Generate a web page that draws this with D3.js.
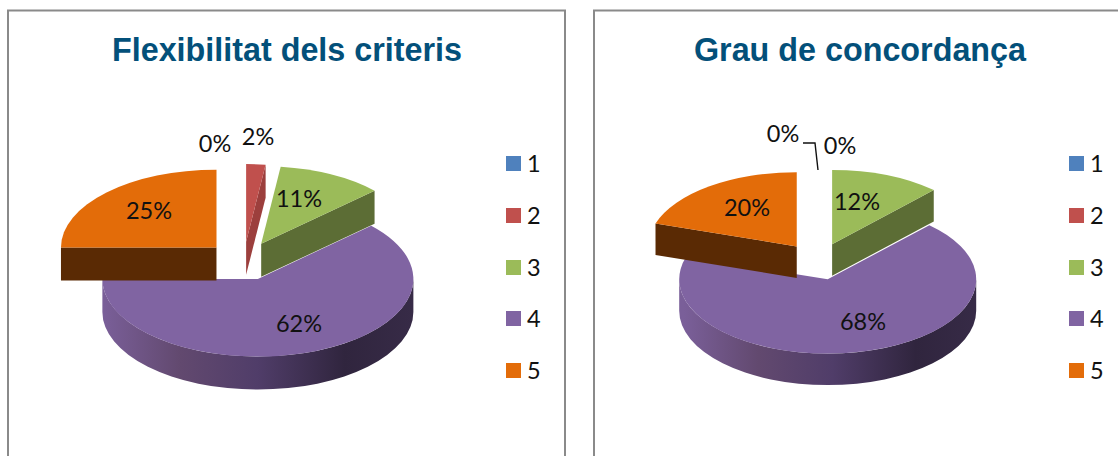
<!DOCTYPE html>
<html><head><meta charset="utf-8">
<script src="https://cdn.jsdelivr.net/npm/d3@7"></script>
<style>html,body{margin:0;padding:0;background:#fff;overflow:hidden}svg{display:block}</style>
</head><body><svg id="c" width="1118" height="456"></svg>
<script>
const categories = ["1","2","3","4","5"];
const titleA = "Flexibilitat dels criteris";
const titleB = "Grau de concordança";
const valuesA = [0,2,11,62,25];
const valuesB = [0,0,12,68,20];
const colors = ["#4F81BD","#C0504D","#9BBB59","#8064A2","#E36C09"];
const wallColors = ["#2F4D71","#9C3F3D","#5C6D35","#8064A2","#5A2A04"];

const layouts = [
 {values:valuesA,title:titleA,titleX:287,frameL:8,frameR:565,cx:243.7,cy:261,rx:155.5,ry:77.7,explode:38.5,depth:33,
  legendX:506,legendY:[156,208,260,311,363],
  labels:[[215,144],[258,137],[299,199],[299,324],[149,211]],leader:null},
 {values:valuesB,title:titleB,titleX:860,frameL:594,frameR:1130,cx:818.5,cy:261.4,rx:148.5,ry:74.25,explode:37,depth:31.5,
  legendX:1069,legendY:[156,208,260,311,363],
  labels:[[783,134],[840,146],[857,202],[863,322],[747,208]],leader:[[803,143],[815,143],[818,170]]}
];
const svg = d3.select("#c");
const defs = svg.append("defs");
const fmt = v => v + "%";
const LABEL_FONT = "Lato, 'Open Sans', sans-serif";

layouts.forEach((L,li)=>{
  const g = svg.append("g");
  g.append("path").attr("d",`M${L.frameL},470V10.5H${L.frameR}V470`).attr("fill","none").attr("stroke","#8a8a8a").attr("stroke-width",2);
  g.append("text").attr("x",L.titleX).attr("y",61).attr("text-anchor","middle")
    .attr("font-family","'Liberation Sans',Arial,sans-serif").attr("font-weight","bold").attr("font-size",32.3)
    .attr("fill","#03507A").text(L.title);

  const arcs = d3.pie().sort(null).value(d=>d)(L.values);
  const pt=(a,c)=>[c[0]+L.rx*Math.sin(a),c[1]-L.ry*Math.cos(a)];
  const centre=d=>{const m=(d.startAngle+d.endAngle)/2;
    return [L.cx+L.explode*Math.sin(m),L.cy-L.explode*Math.cos(m)*L.ry/L.rx];};
  const arcGen=d3.arc().innerRadius(0).outerRadius(L.rx);

  const gid="wall"+li;
  const grad=defs.append("linearGradient").attr("id",gid).attr("gradientUnits","userSpaceOnUse")
    .attr("x1",L.cx-L.rx+14).attr("x2",L.cx+L.rx+14).attr("y1",0).attr("y2",0);
  [[0,"#7A5F99"],[.25,"#62496F"],[.5,"#503D69"],[.78,"#30253E"],[1,"#372B47"]].forEach(s=>grad.append("stop").attr("offset",s[0]).attr("stop-color",s[1]));

  // painting order: large slice first, then the slices in front of it
  [3,4,2,1,0].forEach(i=>{
    const d=arcs[i]; if(d.value===0) return;
    const c=centre(d);
    const s=g.append("g");
    // outer rim wall (front half of the ellipse only)
    const a0=Math.max(d.startAngle,Math.PI/2), a1=Math.min(d.endAngle,Math.PI*1.5);
    if(a1>a0){
      const p0=pt(a0,c),p1=pt(a1,c);
      const lg=(a1-a0)>Math.PI?1:0;
      s.append("path").attr("fill",i===3?`url(#${gid})`:wallColors[i])
       .attr("d",`M${p0}A${L.rx},${L.ry} 0 ${lg} 1 ${p1}L${p1[0]},${p1[1]+L.depth}A${L.rx},${L.ry} 0 ${lg} 0 ${p0[0]},${p0[1]+L.depth}Z`);
    }
    // visible radial cut wall
    const cut = i===4 ? d.startAngle : (d.endAngle<Math.PI ? d.endAngle : null);
    if(cut!==null && i!==3){
      const p=pt(cut,c);
      s.append("path").attr("fill",wallColors[i])
       .attr("d",`M${c}L${p}L${p[0]},${p[1]+L.depth}L${c[0]},${c[1]+L.depth}Z`);
    }
    s.append("path").attr("fill",colors[i]).attr("d",arcGen(d))
     .attr("transform",`translate(${c}) scale(1,${L.ry/L.rx})`);
  });

  L.values.forEach((v,i)=>{
    g.append("text").attr("x",L.labels[i][0]).attr("y",L.labels[i][1]).attr("dy","0.35em")
     .attr("text-anchor","middle").attr("font-family",LABEL_FONT).attr("font-size",23.5).attr("fill","#111").text(fmt(v));
  });
  if(L.leader) g.append("path").attr("d",d3.line()(L.leader)).attr("fill","none").attr("stroke","#111").attr("stroke-width",1.4);

  categories.forEach((t,i)=>{
    g.append("rect").attr("x",L.legendX).attr("y",L.legendY[i]).attr("width",15).attr("height",15).attr("fill",colors[i]);
    g.append("text").attr("x",L.legendX+21).attr("y",L.legendY[i]+7.5).attr("dy","0.35em")
     .attr("font-family",LABEL_FONT).attr("font-size",23.5).attr("fill","#111").text(t);
  });
});
</script></body></html>
